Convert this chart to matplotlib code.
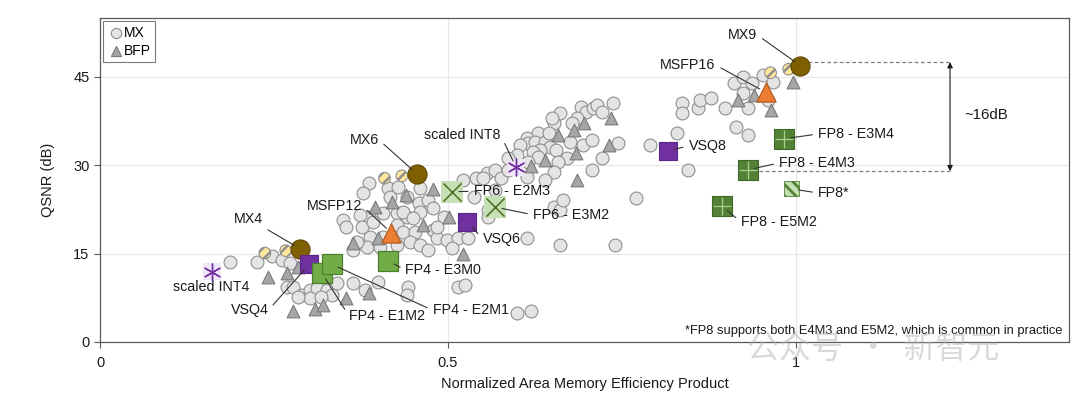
import matplotlib
matplotlib.use("Agg")
import matplotlib.pyplot as plt

plt.rcParams['font.family'] = ['Liberation Sans', 'DejaVu Sans']

# ---------------- data ----------------
mx_x = [0.187, 0.226, 0.247, 0.262, 0.273, 0.269, 0.278, 0.291, 0.302, 0.312,
        0.327, 0.334, 0.302, 0.285, 0.317, 0.341, 0.364, 0.381, 0.400, 0.443,
        0.442, 0.386, 0.414, 0.429, 0.458, 0.472, 0.478, 0.460, 0.442, 0.427,
        0.407, 0.386, 0.374, 0.350, 0.353, 0.377, 0.393, 0.427, 0.436, 0.453,
        0.478, 0.485, 0.499, 0.514, 0.529, 0.378, 0.388, 0.407, 0.384, 0.403,
        0.427, 0.446, 0.460, 0.364, 0.370, 0.472, 0.506, 0.514, 0.525, 0.494,
        0.485, 0.537, 0.540, 0.557, 0.568, 0.576, 0.586, 0.417, 0.442, 0.460,
        0.436, 0.450, 0.662, 0.691, 0.698, 0.709, 0.715, 0.722, 0.737, 0.686,
        0.679, 0.652, 0.650, 0.629, 0.614, 0.616, 0.604, 0.626, 0.640, 0.645,
        0.647, 0.633, 0.622, 0.655, 0.676, 0.695, 0.708, 0.744, 0.722, 0.708,
        0.672, 0.659, 0.652, 0.630, 0.616, 0.600, 0.586, 0.551, 0.614, 0.640,
        0.568, 0.652, 0.662, 0.614, 0.662, 0.741, 0.770, 0.791, 0.522, 0.558,
        0.830, 0.837, 0.837, 0.859, 0.863, 0.878, 0.899, 0.914, 0.931, 0.932,
        0.924, 0.911, 0.925, 0.938, 0.953, 0.968, 0.961, 0.845, 0.600, 0.619,
        0.665, 0.558]
mx_y = [13.6, 13.6, 14.6, 13.9, 13.4, 9.3, 9.3, 8.0, 8.8, 9.2,
        8.8, 8.0, 7.5, 7.6, 7.6, 10.0, 10.0, 8.8, 10.2, 9.3,
        8.0, 27.0, 26.1, 26.3, 23.6, 24.1, 22.8, 22.1, 21.2, 21.9,
        21.9, 21.2, 21.6, 20.7, 19.5, 19.5, 20.4, 19.9, 18.7, 18.7,
        19.0, 17.7, 17.3, 17.7, 17.7, 25.3, 17.8, 17.8, 16.1, 16.1,
        16.5, 17.0, 16.5, 15.6, 17.0, 15.6, 16.0, 9.3, 9.7, 21.2,
        19.5, 24.6, 27.8, 28.7, 29.2, 27.8, 29.2, 24.6, 24.6, 26.1,
        22.1, 21.1, 38.9, 39.9, 39.0, 39.7, 40.2, 39.0, 40.6, 38.0,
        37.2, 37.2, 38.0, 35.5, 34.6, 33.8, 33.4, 34.0, 34.0, 35.5,
        33.1, 32.6, 32.3, 32.6, 34.0, 33.4, 34.3, 33.8, 31.2, 29.2,
        31.2, 30.6, 28.9, 31.4, 30.6, 31.8, 31.2, 27.8, 28.0, 27.5,
        25.8, 22.9, 22.4, 17.7, 16.5, 16.5, 24.5, 33.4, 27.5, 22.4,
        35.5, 40.6, 38.9, 39.7, 41.1, 41.4, 39.7, 36.5, 35.1, 39.7,
        42.3, 44.0, 45.0, 44.0, 45.3, 44.1, 41.1, 29.2, 4.9, 5.3,
        24.1, 21.2]

bfp_x = [0.242, 0.269, 0.285, 0.278, 0.309, 0.321, 0.353, 0.386, 0.364, 0.522,
         0.478, 0.440, 0.420, 0.396, 0.399, 0.465, 0.501, 0.658, 0.681, 0.696,
         0.734, 0.732, 0.685, 0.640, 0.620, 0.686, 0.917, 0.940, 0.964, 0.996]
bfp_y = [11.0, 11.7, 12.7, 5.3, 5.6, 6.3, 7.5, 8.3, 16.8, 14.9,
         26.0, 25.0, 23.8, 22.9, 17.7, 19.9, 21.2, 35.1, 36.0, 37.2,
         38.0, 33.4, 32.1, 30.9, 29.9, 27.5, 41.1, 41.9, 39.4, 44.1]

# MX highlighted formats (MX4, MX6, MX9) and their hatched neighbours
mx_big_labels = ['MX4', 'MX6', 'MX9']
mx_big_x = [0.288, 0.456, 1.007]
mx_big_y = [15.8, 28.5, 46.9]
mx_hatch_x = [0.237, 0.267, 0.409, 0.434, 0.964, 0.990]
mx_hatch_y = [15.1, 15.5, 27.8, 28.2, 45.7, 46.3]

msfp_labels = ['MSFP12', 'MSFP16']
msfp_x = [0.419, 0.957]
msfp_y = [18.5, 42.4]

vsq_labels = ['VSQ4', 'VSQ6', 'VSQ8']
vsq_x = [0.301, 0.528, 0.816]
vsq_y = [13.2, 20.4, 32.4]

int_labels = ['scaled INT4', 'scaled INT8']
int_x = [0.161, 0.598]
int_y = [11.9, 29.7]

fp4_labels = ['FP4 - E1M2', 'FP4 - E2M1', 'FP4 - E3M0']
fp4_x = [0.319, 0.333, 0.414]
fp4_y = [11.7, 13.2, 13.8]

fp6_labels = ['FP6 - E2M3', 'FP6 - E3M2']
fp6_x = [0.506, 0.568]
fp6_y = [25.5, 22.9]

fp8_labels = ['FP8 - E3M4', 'FP8 - E4M3', 'FP8 - E5M2']
fp8_x = [0.983, 0.931, 0.894]
fp8_y = [34.5, 29.2, 23.1]

fp8s_label = 'FP8*'
fp8s_x = [0.994]
fp8s_y = [26.0]

gap_label = '~16dB'
footnote = '*FP8 supports both E4M3 and E5M2, which is common in practice'

# ---------------- figure ----------------
fig = plt.figure(figsize=(10.8, 3.99), dpi=100)
ax = fig.add_axes([0.0926, 0.1429, 0.8972, 0.8120])
ax.set_xlim(0, 1.393)
ax.set_ylim(0, 55)

for yv in [15, 30, 45]:
    ax.axhline(yv, color='#e8e8e8', lw=0.9, zorder=0)
for xv in [0.5, 1.0]:
    ax.axvline(xv, color='#e8e8e8', lw=0.9, zorder=0)

ax.scatter(mx_x, mx_y, s=86, marker='o', facecolor='#e4e4e4',
           edgecolor='#8f8f8f', linewidth=0.8, zorder=2, label='MX')
ax.scatter(bfp_x, bfp_y, s=84, marker='^', facecolor='#a6a6a6',
           edgecolor='#7a7a7a', linewidth=0.8, zorder=2.5, label='BFP')

plt.rcParams['hatch.color'] = '#2b2b2b'
plt.rcParams['hatch.linewidth'] = 1.8
ax.scatter(mx_hatch_x, mx_hatch_y, s=70, marker='o', facecolor='#ffe699',
           edgecolor='#8f8f8f', linewidth=0.8, hatch='///', zorder=4)
ax.scatter(mx_big_x, mx_big_y, s=190, marker='o', facecolor='#7f6000',
           edgecolor='#5e4700', linewidth=0.8, zorder=4)

ax.scatter(msfp_x, msfp_y, s=190, marker='^', facecolor='#ed7d31',
           edgecolor='#b45d22', linewidth=0.9, zorder=4)
ax.scatter(vsq_x, vsq_y, s=150, marker='s', facecolor='#7030a0',
           edgecolor='#5a2585', linewidth=0.8, zorder=4)
ax.scatter(int_x, int_y, s=150, marker='s', facecolor='#efe6f7',
           edgecolor='none', zorder=4)
ax.scatter(int_x, int_y, s=150, marker=(6, 2, 0), color='#7030a0',
           linewidth=1.0, zorder=4.5)
ax.scatter(fp4_x, fp4_y, s=190, marker='s', facecolor='#70ad47',
           edgecolor='#4d7f2e', linewidth=0.9, zorder=4)
ax.scatter(fp6_x, fp6_y, s=250, marker='s', facecolor='#c5e0b4',
           edgecolor='none', zorder=4)
ax.scatter(fp6_x, fp6_y, s=170, marker='x', color='#4e6b1f',
           linewidth=1.1, zorder=4.5)
ax.scatter(fp8_x, fp8_y, s=190, marker='s', facecolor='#548235',
           edgecolor='#3f6826', linewidth=0.8, zorder=4)
ax.scatter(fp8_x, fp8_y, s=170, marker='+', color='#a9d18e',
           linewidth=0.9, zorder=4.5)
plt.rcParams['hatch.color'] = '#3b6b22'
plt.rcParams['hatch.linewidth'] = 2.0
ax.scatter(fp8s_x, fp8s_y, s=120, marker='s', facecolor='#c5e0b4',
           edgecolor='#548235', linewidth=0.6, hatch='\\\\\\', zorder=4)

# ---------------- annotations ----------------
fs = 10.3
def lab(text, xy, xyt, ha):
    rp = (1, 0.5) if ha == 'right' else ((0, 0.5) if ha == 'left' else (0.7, 0.3))
    ax.annotate(text, xy=xy, xytext=xyt, ha=ha, va='center', fontsize=fs,
                color='#1a1a1a', zorder=6,
                arrowprops=dict(arrowstyle='-', color='#333333', lw=0.8,
                                shrinkA=2, shrinkB=5, relpos=rp))

lab(mx_big_labels[0], (mx_big_x[0], mx_big_y[0]), (0.213, 20.9), 'center')
lab(mx_big_labels[1], (mx_big_x[1], mx_big_y[1]), (0.401, 34.3), 'right')
lab(mx_big_labels[2], (mx_big_x[2], mx_big_y[2]), (0.945, 52.1), 'right')
lab(msfp_labels[0], (msfp_x[0], msfp_y[0]), (0.377, 23.1), 'right')
lab(msfp_labels[1], (msfp_x[1], msfp_y[1]), (0.885, 47.0), 'right')
lab(vsq_labels[0], (vsq_x[0], vsq_y[0]), (0.242, 5.4), 'right')
lab(vsq_labels[1], (vsq_x[1], vsq_y[1]), (0.550, 17.5), 'left')
lab(vsq_labels[2], (vsq_x[2], vsq_y[2]), (0.846, 33.3), 'left')
ax.text(0.160, 9.3, int_labels[0], ha='center', va='center', fontsize=fs, color='#1a1a1a')
lab(int_labels[1], (int_x[1], int_y[1]), (0.576, 35.1), 'right')
lab(fp4_labels[0], (fp4_x[0], fp4_y[0]), (0.358, 4.4), 'left')
lab(fp4_labels[1], (fp4_x[1], fp4_y[1]), (0.478, 5.4), 'left')
lab(fp4_labels[2], (fp4_x[2], fp4_y[2]), (0.439, 12.2), 'left')
lab(fp6_labels[0], (fp6_x[0], fp6_y[0]), (0.537, 25.6), 'left')
lab(fp6_labels[1], (fp6_x[1], fp6_y[1]), (0.622, 21.6), 'left')
lab(fp8_labels[0], (fp8_x[0], fp8_y[0]), (1.032, 35.3), 'left')
lab(fp8_labels[1], (fp8_x[1], fp8_y[1]), (0.976, 30.4), 'left')
lab(fp8_labels[2], (fp8_x[2], fp8_y[2]), (0.921, 20.4), 'left')
lab(fp8s_label, (fp8s_x[0], fp8s_y[0]), (1.032, 25.3), 'left')

# gap indicator
ax.plot([1.018, 1.222], [47.5, 47.5], ls=(0, (3, 2)), color='#7f7f7f', lw=0.9, zorder=3)
ax.plot([0.948, 1.222], [29.0, 29.0], ls=(0, (3, 2)), color='#7f7f7f', lw=0.9, zorder=3)
ax.annotate('', xy=(1.222, 47.5), xytext=(1.222, 29.0),
            arrowprops=dict(arrowstyle='<|-|>', color='#1a1a1a', lw=0.8,
                            mutation_scale=8, shrinkA=0, shrinkB=0))
ax.text(1.242, 38.5, gap_label, ha='left', va='center', fontsize=fs + 0.5, color='#1a1a1a')

ax.text(1.384, 1.9, footnote, ha='right', va='center', fontsize=9.3, color='#1a1a1a', zorder=6)

# ---------------- axes styling ----------------
ax.set_xticks([0, 0.5, 1])
ax.set_xticklabels(['0', '0.5', '1'])
ax.set_yticks([0, 15, 30, 45])
ax.tick_params(axis='both', labelsize=10.5, length=4, width=0.8, color='#595959',
               labelcolor='#1a1a1a', direction='out')
ax.tick_params(axis='x', pad=6)
for sp in ax.spines.values():
    sp.set_color('#595959')
    sp.set_linewidth(0.9)
ax.set_xlabel('Normalized Area Memory Efficiency Product', fontsize=10.5,
              color='#1a1a1a', labelpad=5)
ax.set_ylabel('QSNR (dB)', fontsize=10.5, color='#1a1a1a', labelpad=13)

leg = ax.legend(loc='upper left', fontsize=10, frameon=True, fancybox=False,
                handletextpad=0.0, labelspacing=0.3, borderpad=0.3,
                handlelength=1.2, borderaxespad=0.25, markerscale=0.8)
leg.get_frame().set_edgecolor('#595959')
leg.get_frame().set_linewidth(0.8)

# watermark (sits behind the footnote, as in the reference)
fig.text(0.692, 0.125, '公众号  ·  新智元', fontsize=23, color='#b4b4b4', alpha=0.5,
         family=['Noto Sans CJK SC', 'DejaVu Sans'], ha='left', va='center', zorder=0)

fig.savefig('out.png', dpi=100)
